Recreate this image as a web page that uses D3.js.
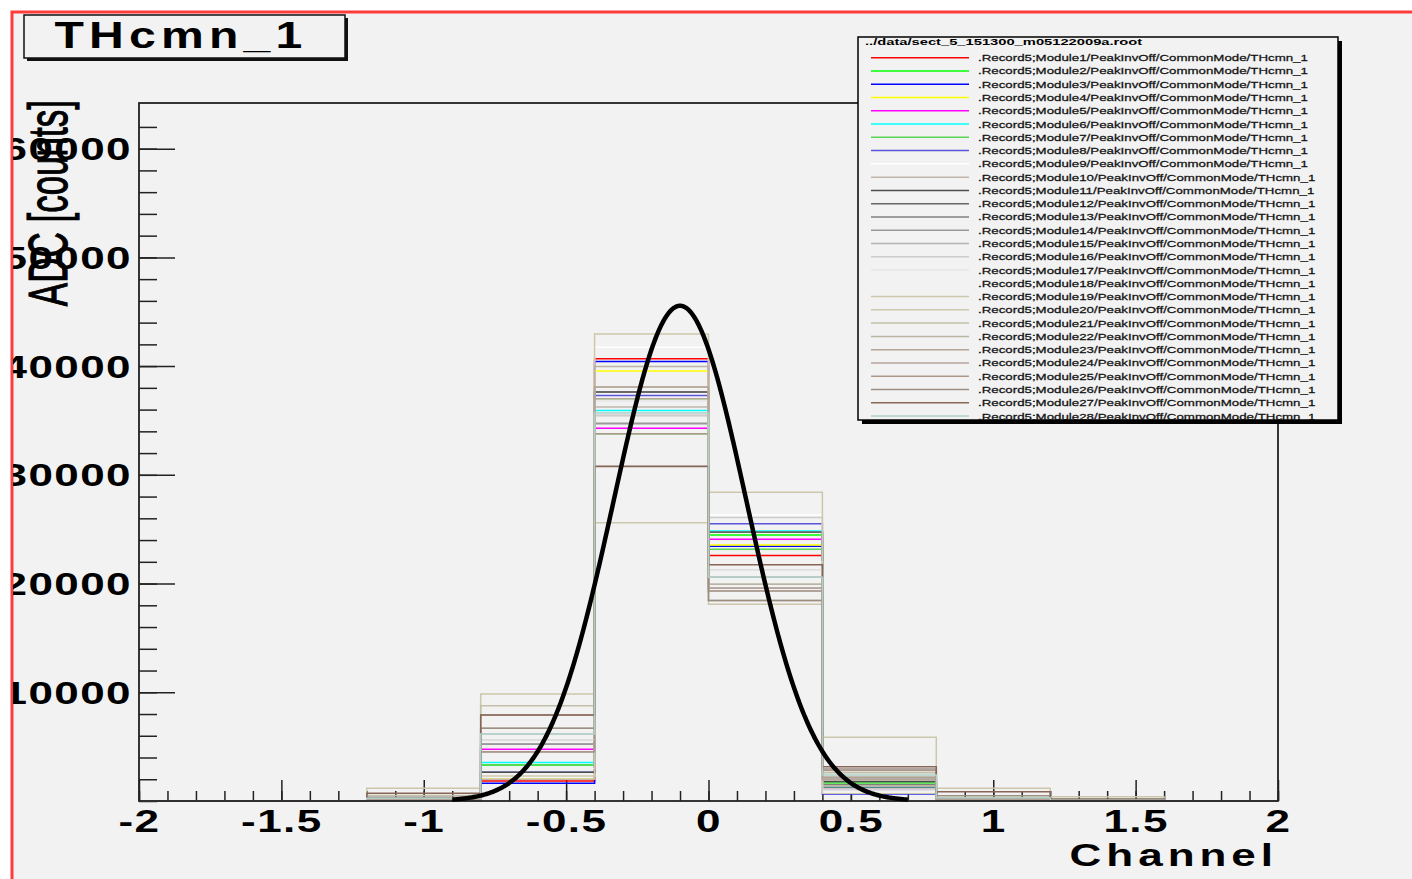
<!DOCTYPE html>
<html>
<head>
<meta charset="utf-8">
<script src="https://cdn.jsdelivr.net/npm/d3@7"></script>
<style>
  body { margin: 0; background: #fff; }
  svg { display: block; }
</style>
</head>
<body>
<script>
const width = 1412;
const height = 879;

// histogram binning (10 bins of 0.4 from -2 to 2)
const binEdges = [-2, -1.6, -1.2, -0.8, -0.4, 0, 0.4, 0.8, 1.2, 1.6, 2];

const moduleIds = [1, 2, 3, 4, 5, 6, 7, 8, 9, 10, 11, 12, 13, 14,
  15, 16, 17, 18, 19, 20, 21, 22, 23, 24, 25, 26, 27, 28];

// ROOT colour 2..29, one per module
const lineColors = [
  "#ff0000", "#00ff00", "#0000ff", "#ffff00", "#ff00ff", "#00ffff",
  "#59d454", "#5954d9", "#ffffff", "#c0b6ac", "#4d4d4d", "#666666",
  "#808080", "#999999", "#b3b3b3", "#cccccc", "#e6e6e6", "#f2f2f2",
  "#ccc7ab", "#ccc7ab", "#c2bfa8", "#bab5a3", "#b3a696", "#b8a39c",
  "#ad998c", "#9c8f82", "#876657", "#b0cfc7",
];

// bin contents per module (index = module - 1); bins outside are empty
const binM12 = [0, 0, 0, 0, 0, 0, 0, 0, 0, 0, 0, 0, 0, 60,
  0, 0, 80, 0, 0, 1170, 500, 100, 120, 150, 200, 340, 710, 250];
const binM08 = [1840, 3310, 1630, 2000, 4750, 3530, 3310, 2640, 2300, 2000, 2640, 5210, 4540, 5210,
  5610, 6160, 5610, 3000, 2300, 9840, 8770, 6690, 7910, 4540, 4540, 6690, 7910, 6160];
const binM04 = [40670, 36990, 40420, 39540, 34290, 35920, 33770, 37300, 41740, 36230, 37610, 37610, 34720, 34720,
  35460, 35460, 36780, 37000, 42950, 25600, 38070, 39970, 38070, 36990, 33770, 30800, 30760, 35680];
const bin00 = [22570, 24470, 23430, 23550, 24070, 24840, 23160, 25490, 26300, 21230, 24720, 24720, 19570, 20580,
  19320, 26070, 21230, 22000, 18100, 28400, 19940, 19940, 18430, 19570, 19320, 18430, 21720, 20580];
const binP04 = [1100, 1680, 640, 1500, 980, 1260, 1680, 980, 800, 2140, 1800, 1200, 1500, 2140,
  1350, 1000, 1100, 900, 700, 5860, 2600, 1900, 2200, 2000, 2800, 2940, 3160, 2390];
const binP08 = [0, 0, 0, 0, 0, 0, 0, 0, 0, 0, 60, 0, 0, 80,
  0, 0, 0, 0, 0, 1170, 250, 120, 100, 150, 200, 490, 860, 300];
const binP12 = [0, 0, 0, 0, 0, 0, 0, 0, 0, 0, 0, 0, 0, 0,
  0, 0, 0, 0, 0, 400, 0, 0, 0, 0, 0, 100, 180, 60];

// gaussian fit drawn over the histograms
const fitConstant = 45550;
const fitMean = -0.1;
const fitSigma = 0.233;
const fitRange = [-0.9, 0.7];

// axis ticks
const xMajor = [-2, -1.5, -1, -0.5, 0, 0.5, 1, 1.5, 2];
const xTickLabels = ["-2", "-1.5", "-1", "-0.5", "0", "0.5", "1", "1.5", "2"];
const yMajor = [10000, 20000, 30000, 40000, 50000, 60000];
const yTickLabels = ["10000", "20000", "30000", "40000", "50000", "60000"];

const histTitle = "THcmn_1";
const xTitle = "Channel";
const yTitle = "ADC [counts]";
const legendHeader = "../data/sect_5_151300_m05122009a.root";

const histograms = moduleIds.map((m, i) => ({
  id: m,
  color: lineColors[i],
  label: `.Record5;Module${m}/PeakInvOff/CommonMode/THcmn_1`,
  counts: [0, 0, binM12[i], binM08[i], binM04[i], bin00[i], binP04[i], binP08[i], binP12[i], 0],
}));

const x = d3.scaleLinear().domain([-2, 2]).range([139, 1278]);
const y = d3.scaleLinear().domain([0, 64200]).range([801, 103]);

const svg = d3
  .select("body")
  .append("svg")
  .attr("width", width)
  .attr("height", height);

svg.append("defs")
  .append("clipPath")
  .attr("id", "pad")
  .append("rect")
  .attr("x", 13)
  .attr("y", 13)
  .attr("width", width)
  .attr("height", height);

// canvas
svg.append("rect")
  .attr("x", 12).attr("y", 12)
  .attr("width", width).attr("height", height)
  .attr("fill", "#f2f2f2")
  .attr("stroke", "#ff3b3b")
  .attr("stroke-width", 3);

const g = svg.append("g").attr("clip-path", "url(#pad)");

const font = "'Liberation Sans', Arial, sans-serif";
const sx = 1.42;

// minor ticks
g.append("g")
  .attr("transform", `translate(0,${y(0)})`)
  .attr("color", "#222")
  .call(d3.axisBottom(x).tickValues(d3.range(-20, 21).map((i) => i / 10)).tickSize(-10).tickFormat(""))
  .call((a) => a.select(".domain").remove())
  .selectAll("line").attr("stroke-width", 1.5);

g.append("g")
  .attr("transform", `translate(${x(-2)},0)`)
  .attr("color", "#222")
  .call(d3.axisLeft(y).tickValues(d3.range(0, 32).map((i) => i * 2000)).tickSize(-18).tickFormat(""))
  .call((a) => a.select(".domain").remove())
  .selectAll("line").attr("stroke-width", 1.5);

// major ticks + labels
const xAxis = g.append("g")
  .attr("transform", `translate(0,${y(0)})`)
  .attr("color", "#222")
  .call(d3.axisBottom(x).tickValues(xMajor).tickSize(-21).tickFormat((d, i) => xTickLabels[i]))
  .call((a) => a.select(".domain").remove());
xAxis.selectAll("line").attr("stroke-width", 1.5);
xAxis.selectAll("text")
  .attr("y", 31).attr("dy", null)
  .attr("transform", `scale(${sx},1)`)
  .attr("fill", "#000")
  .attr("font-family", font).attr("font-weight", "bold")
  .attr("font-size", 31).attr("letter-spacing", 1);

const yAxis = g.append("g")
  .attr("transform", `translate(${x(-2)},0)`)
  .attr("color", "#222")
  .call(d3.axisLeft(y).tickValues(yMajor).tickSize(-36).tickFormat((d, i) => yTickLabels[i]))
  .call((a) => a.select(".domain").remove());
yAxis.selectAll("line").attr("stroke-width", 1.5);
yAxis.selectAll("text")
  .attr("x", -7 / sx).attr("y", 11).attr("dy", null)
  .attr("transform", `scale(${sx},1)`)
  .attr("fill", "#000")
  .attr("font-family", font).attr("font-weight", "bold")
  .attr("font-size", 31).attr("letter-spacing", 1);

// histograms
const stepLine = (counts) => {
  const pts = [[x(binEdges[0]), y(0)]];
  counts.forEach((c, i) => {
    pts.push([x(binEdges[i]), y(c)]);
    pts.push([x(binEdges[i + 1]), y(c)]);
  });
  pts.push([x(binEdges[binEdges.length - 1]), y(0)]);
  return d3.line()(pts);
};

g.append("g")
  .selectAll("path")
  .data(histograms)
  .join("path")
  .attr("d", (d) => stepLine(d.counts))
  .attr("fill", "none")
  .attr("stroke", (d) => d.color)
  .attr("stroke-width", 1.5);

// frame
g.append("rect")
  .attr("x", x(-2)).attr("y", y.range()[1])
  .attr("width", x(2) - x(-2)).attr("height", y(0) - y.range()[1])
  .attr("fill", "none")
  .attr("stroke", "#222")
  .attr("stroke-width", 1.8);

// fit
const gaus = (v) => fitConstant * Math.exp(-0.5 * ((v - fitMean) / fitSigma) ** 2);
const fitPts = d3.range(fitRange[0], fitRange[1] + 1e-9, 0.004).map((v) => [x(v), y(gaus(v))]);
g.append("path")
  .attr("d", d3.line()(fitPts))
  .attr("fill", "none")
  .attr("stroke", "#000")
  .attr("stroke-width", 4.5)
  .attr("stroke-linejoin", "round");

// axis titles
g.append("text")
  .attr("transform", `translate(1278,866) scale(1.42,1)`)
  .attr("text-anchor", "end")
  .attr("font-family", font).attr("font-weight", "bold")
  .attr("font-size", 31).attr("letter-spacing", 3.5)
  .text(xTitle);

g.append("text")
  .attr("transform", `translate(67,100) scale(1.6,1) rotate(-90)`)
  .attr("text-anchor", "end")
  .attr("font-family", font)
  .attr("font-size", 35)
  .attr("stroke", "#000")
  .attr("stroke-width", 0.7)
  .text(yTitle);

// legend
const legX = 858, legY = 37, legW = 480, legH = 383;
const leg = g.append("g");
leg.append("rect")
  .attr("x", legX + 4).attr("y", legY + 4)
  .attr("width", legW).attr("height", legH)
  .attr("fill", "#000");
leg.append("rect")
  .attr("x", legX).attr("y", legY)
  .attr("width", legW).attr("height", legH)
  .attr("fill", "#f2f2f2")
  .attr("stroke", "#000")
  .attr("stroke-width", 1.5);

leg.append("clipPath").attr("id", "legclip")
  .append("rect").attr("x", legX).attr("y", legY).attr("width", legW - 18).attr("height", legH);

leg.append("text")
  .attr("transform", `translate(${legX + 7},${legY + 8}) scale(1.55,1)`)
  .attr("font-family", font).attr("font-weight", "bold")
  .attr("font-size", 9.5)
  .text(legendHeader);

const rowY = d3.scalePoint().domain(moduleIds).range([57.7, 416]);
const rows = leg.append("g").attr("clip-path", "url(#legclip)")
  .selectAll("g")
  .data(histograms)
  .join("g")
  .attr("transform", (d) => `translate(0,${rowY(d.id)})`);
rows.append("line")
  .attr("x1", 871).attr("x2", 969)
  .attr("stroke", (d) => d.color)
  .attr("stroke-width", 1.5);
rows.append("text")
  .attr("transform", "translate(978,3.5) scale(1.4,1)")
  .attr("font-family", font)
  .attr("font-size", 9.5)
  .attr("fill", "#111")
  .attr("stroke", "#111")
  .attr("stroke-width", 0.25)
  .text((d) => d.label);

// title box
const t = g.append("g");
t.append("rect")
  .attr("x", 27).attr("y", 18).attr("width", 321).attr("height", 43)
  .attr("fill", "#111");
t.append("rect")
  .attr("x", 24).attr("y", 15).attr("width", 321).attr("height", 43)
  .attr("fill", "#f2f2f2")
  .attr("stroke", "#111")
  .attr("stroke-width", 1.5);
t.append("text")
  .attr("transform", "translate(181,48) scale(1.3,1)")
  .attr("text-anchor", "middle")
  .attr("font-family", font).attr("font-weight", "bold")
  .attr("font-size", 37).attr("letter-spacing", 4)
  .text(histTitle);
</script>
</body>
</html>
